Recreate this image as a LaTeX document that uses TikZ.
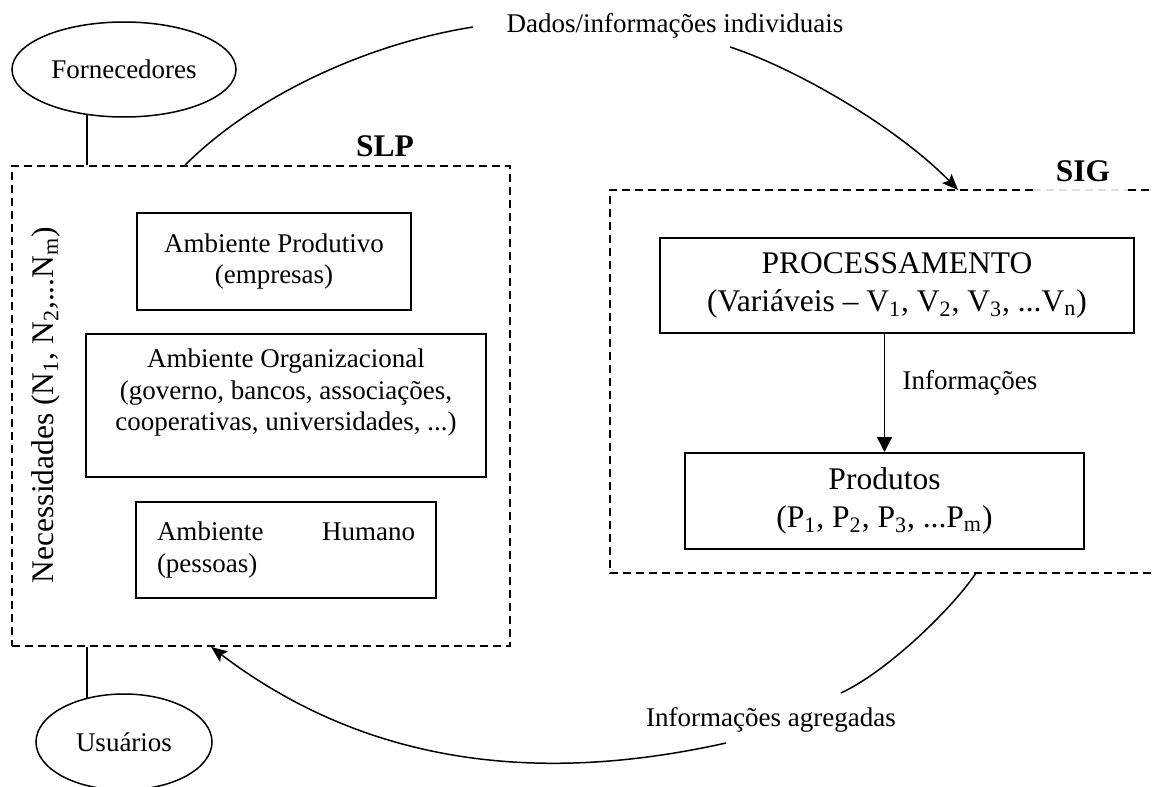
\documentclass[tikz,border=0pt]{standalone}
\usepackage{fontspec}
\setmainfont{Liberation Serif}
\usetikzlibrary{arrows.meta,shapes.geometric}
\begin{document}
\begin{tikzpicture}[x=0.5pt,y=-0.5pt,
  box/.style={draw,line width=1pt,inner sep=0pt,align=center,font=\fontsize{13.5}{15.75}\selectfont},
  bigbox/.style={box,font=\fontsize{15.75}{19}\selectfont},
  dbox/.style={draw,line width=0.9pt,dash pattern=on 4pt off 2.5pt},
  oval/.style={draw,ellipse,line width=0.75pt,inner sep=0pt,font=\fontsize{13.5}{15.75}\selectfont},
  lbl/.style={inner sep=0pt,font=\fontsize{13.5}{15.75}\selectfont},
  ttl/.style={inner sep=0pt,font=\fontsize{15.75}{19}\selectfont\bfseries},
  conn/.style={line width=0.75pt},
  arr/.style={conn,-{Stealth[length=8pt,width=6.5pt,inset=1.5pt]}},
  varr/.style={conn,-{Triangle[length=7.5pt,width=7.5pt]}},
]
\useasboundingbox (0,0) rectangle (1152,787);

% SLP region
\node[dbox,minimum width=249pt,minimum height=240pt,inner sep=0pt] (slp) at (261,406) {};
\node[ttl] (slplbl) at (385,146) {SLP};
\node[inner sep=0pt,rotate=90,font=\fontsize{15.75}{19}\selectfont] (nec) at (46,405)
  {Necessidades (N\textsubscript{1}, N\textsubscript{2},...N\textsubscript{m})};
\node[box,minimum width=137pt,minimum height=48.5pt] (prodamb) at (274,261.5)
  {Ambiente Produtivo\\(empresas)};
\node[box,minimum width=200pt,minimum height=71.5pt] (orgamb) at (286,405.5)
  {Ambiente Organizacional\\(governo, bancos, associações,\\cooperativas, universidades, ...)\\ \mbox{}};
\node[box,align=left,minimum width=150pt,minimum height=48pt] (humamb) at (286,550)
  {\makebox[129pt]{Ambiente\hfill Humano}\\(pessoas)};

% external entities
\node[oval,minimum width=112pt,minimum height=47.5pt] (forn) at (124,69.5) {Fornecedores};
\node[oval,minimum width=88pt,minimum height=48pt] (usu) at (124,742) {Usuários};
\draw[conn] (forn.231) -- (forn.231 |- slp.north);
\draw[conn] (usu.130) -- (usu.130 |- slp.south);

% SIG region
\coordinate (sigtl) at (610,190);
\coordinate (sigbl) at (610,573);
\draw[dbox] (1033,190) -- (sigtl) -- (sigbl) -- (1153,573);
\draw[dbox] (1128,190) -- (1153,190);
\draw[dbox,gray!25] (1033,190) -- (1128,190);
\node[ttl] (siglbl) at (1083,171) {SIG};
\node[bigbox,minimum width=237pt,minimum height=47.5pt] (proc) at (897,285.5)
  {PROCESSAMENTO\\(Variáveis -- V\textsubscript{1}, V\textsubscript{2}, V\textsubscript{3}, ...V\textsubscript{n})};
\node[bigbox,minimum width=199.5pt,minimum height=48pt] (prod) at (884.5,501)
  {Produtos\\(P\textsubscript{1}, P\textsubscript{2}, P\textsubscript{3}, ...P\textsubscript{m})};
\draw[varr] (prod.north |- proc.south) -- (prod.north);
\node[lbl] (infolbl) at (970,383) {Informações};

% flows
\node[lbl] (dados) at (675,26) {Dados/informações individuais};
\coordinate (d1) at (473,27);
\coordinate (d2) at (730,47);
\coordinate (sigtop) at (958,190);
\draw[conn] ([xshift=87pt]slp.north west) .. controls (250,100) and (360,45) .. (d1);
\draw[arr] (d2) .. controls (800,70) and (900,130) .. (sigtop);

\node[lbl] (agreg) at (771,720) {Informações agregadas};
\coordinate (sigbot) at (976,573);
\coordinate (a1) at (841,693);
\coordinate (a2) at (726,743);
\draw[conn] (sigbot) .. controls (955,605) and (890,670) .. (a1);
\draw[arr] (a2) .. controls (560,780) and (380,775) .. ([xshift=100pt]slp.south west);
\end{tikzpicture}
\end{document}
